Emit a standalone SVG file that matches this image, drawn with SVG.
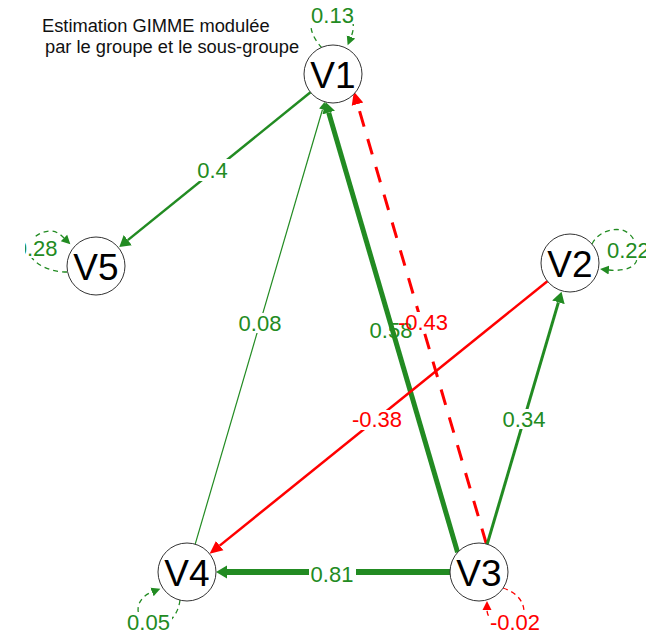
<svg xmlns="http://www.w3.org/2000/svg" width="646" height="636" viewBox="0 0 646 636">
<style>
.title{font-family:"Liberation Sans",Arial,sans-serif;font-size:18.3px;fill:#111}
.node circle{fill:#fff;stroke:#333;stroke-width:1}
.node text{font-family:"Liberation Sans",Arial,sans-serif;font-size:37px;fill:#000;text-anchor:middle}
.lbl{font-family:"Liberation Sans",Arial,sans-serif;font-size:22px;text-anchor:middle}
.g{fill:#228B22}
.r{fill:#FF0000}
.bg{fill:#fff}
.eg{stroke:#228B22;fill:none}
.er{stroke:#FF0000;fill:none}
.loop{stroke-width:1.3;stroke-dasharray:5 4}
</style>
<defs>
<marker id="aG" markerUnits="userSpaceOnUse" viewBox="0 -7 12 14" refX="0" refY="0" markerWidth="12" markerHeight="14" orient="auto"><path d="M0,-6.5 L11,0 L0,6.5 z" fill="#228B22"/></marker>
<marker id="aGt" markerUnits="userSpaceOnUse" viewBox="0 -4 9 8" refX="0" refY="0" markerWidth="9" markerHeight="8" orient="auto"><path d="M0,-3.5 L8,0 L0,3.5 z" fill="#228B22"/></marker>
<marker id="aR" markerUnits="userSpaceOnUse" viewBox="0 -7 14 14" refX="0" refY="0" markerWidth="14" markerHeight="14" orient="auto"><path d="M0,-6 L13,0 L0,6 z" fill="#FF0000"/></marker>
<marker id="aGs" markerUnits="userSpaceOnUse" viewBox="0 -5 10 10" refX="0" refY="0" markerWidth="10" markerHeight="10" orient="auto"><path d="M0,-4.5 L9,0 L0,4.5 z" fill="#228B22"/></marker>
<marker id="aRs" markerUnits="userSpaceOnUse" viewBox="0 -5 10 10" refX="0" refY="0" markerWidth="10" markerHeight="10" orient="auto"><path d="M0,-4.5 L9,0 L0,4.5 z" fill="#FF0000"/></marker>
<clipPath id="clipL"><rect x="25" y="0" width="621" height="636"/></clipPath>
</defs>

<text class="title" x="42" y="32">Estimation GIMME modulée</text>
<text class="title" x="45" y="53">par le groupe et le sous-groupe</text>

<g id="connectors">
  <!-- V3 -> V4 -->
  <line class="eg" x1="450" y1="572" x2="227" y2="572" stroke-width="6" marker-end="url(#aG)"/>
  <!-- V3 -> V1 (green) -->
  <line class="eg" x1="457.6" y1="552.4" x2="328.7" y2="112.6" stroke-width="5" marker-end="url(#aG)"/>
  <!-- V4 -> V1 thin -->
  <line class="eg" x1="195.2" y1="544.2" x2="322.5" y2="109.5" stroke-width="1.2" marker-end="url(#aGt)"/>
  <!-- V3 -> V1 (red dashed) -->
  <line class="er" x1="486.4" y1="544" x2="357.5" y2="104.1" stroke-width="3" stroke-dasharray="16 13" marker-end="url(#aR)"/>
  <!-- V1 -> V5 -->
  <line class="eg" x1="310.5" y1="92.3" x2="127.8" y2="240.1" stroke-width="2.5" marker-end="url(#aG)"/>
  <!-- V2 -> V4 -->
  <line class="er" x1="547.4" y1="281.2" x2="219.7" y2="545.6" stroke-width="2.5" marker-end="url(#aR)"/>
  <!-- V3 -> V2 -->
  <line class="eg" x1="487.2" y1="544.2" x2="558.4" y2="302.3" stroke-width="3" marker-end="url(#aG)"/>
  <!-- loops -->
  <path class="eg loop" d="M322,48 C311,36 308,24 314,16 C321,7 345,7 351,17 C355,25 353,32 351,37" marker-end="url(#aGs)"/>
  <path class="eg loop" d="M592,244 C598,232 612,228 622,230 C636,234 640,252 636,262 C632,270 618,271 609,270" marker-end="url(#aGs)"/>
  <path class="eg loop" d="M67,272 C55,272 40,268 32,258 C24,246 34,232 50,231 C56,231 60,234 64,238" marker-end="url(#aGs)"/>
  <path class="eg loop" d="M180,600 C178,616 168,626 154,626 C140,625 136,612 139,604 C142,597 147,594 152,592" marker-end="url(#aGs)"/>
  <path class="er loop" d="M503,588 C515,592 524,600 524,612 C524,626 505,630 494,622 C489,618 487,614 487,610" marker-end="url(#aRs)"/>

  <!-- edge labels -->
  <rect class="bg" x="309" y="562" width="47" height="21"/>
  <text class="lbl g" x="332" y="581.5">0.81</text>
  <rect class="bg" x="413" y="312" width="33" height="20"/>
  <text class="lbl g" x="391" y="337.5">0.58</text>
  <text class="lbl r" x="423" y="329.5">-0.43</text>
  <rect class="bg" x="238" y="313" width="46" height="20"/>
  <text class="lbl g" x="260" y="331">0.08</text>
  <rect class="bg" x="196" y="159" width="34" height="22"/>
  <text class="lbl g" x="212.5" y="177.5">0.4</text>
  <rect class="bg" x="352" y="410" width="51" height="20"/>
  <text class="lbl r" x="377" y="427">-0.38</text>
  <rect class="bg" x="501" y="409" width="46" height="20"/>
  <text class="lbl g" x="524" y="427">0.34</text>
  <rect class="bg" x="310" y="4" width="45" height="20"/>
  <text class="lbl g" x="332.5" y="22.5">0.13</text>
  <rect class="bg" x="605" y="240" width="41" height="20"/>
  <text class="lbl g" x="607" y="257.5" style="text-anchor:start">0.22</text>
  <rect class="bg" x="25" y="238" width="34" height="20"/>
  <text class="lbl g" x="57.5" y="255.5" style="text-anchor:end" clip-path="url(#clipL)">0.28</text>
  <rect class="bg" x="126" y="612" width="46" height="20"/>
  <text class="lbl g" x="148.5" y="630">0.05</text>
  <rect class="bg" x="489" y="612" width="52" height="20"/>
  <text class="lbl r" x="515" y="630">-0.02</text>
</g>

<g id="V1" class="node"><circle cx="333" cy="74" r="29"/><text x="333" y="87.5">V1</text></g>
<g id="V2" class="node"><circle cx="570" cy="263" r="29"/><text x="570" y="276.5">V2</text></g>
<g id="V3" class="node"><circle cx="479" cy="572" r="29"/><text x="479" y="585.5">V3</text></g>
<g id="V4" class="node"><circle cx="187" cy="572" r="29"/><text x="187" y="585.5">V4</text></g>
<g id="V5" class="node"><circle cx="96" cy="266" r="29"/><text x="96" y="279.5">V5</text></g>
</svg>
